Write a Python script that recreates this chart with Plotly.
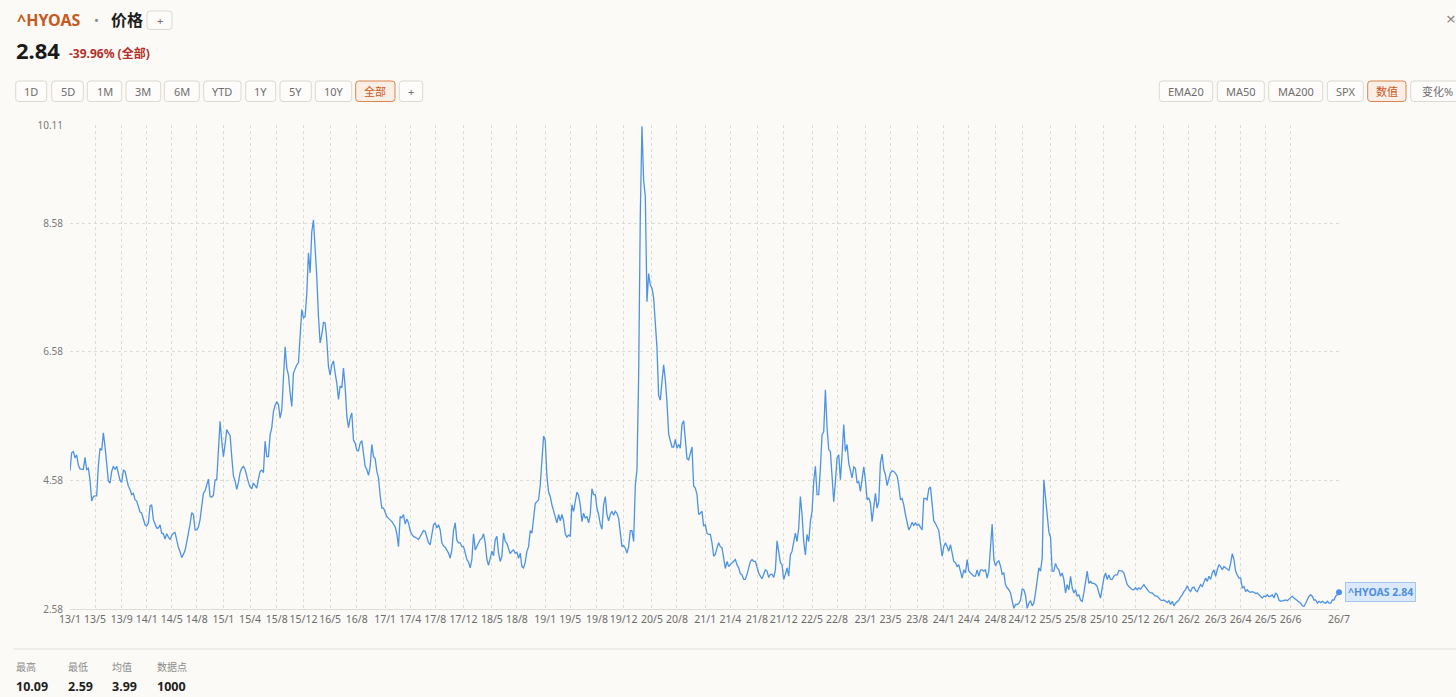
import plotly.graph_objects as go

# ^HYOAS values, evenly spaced along the axis
hyoas_2013_2016 = [
    4.73, 5.01, 5.03, 4.93, 4.98, 4.82, 4.76, 4.76, 4.75, 4.94,
    4.75, 4.77, 4.59, 4.26, 4.33, 4.34, 4.34, 4.80, 5.08, 5.05,
    5.32, 5.11, 4.80, 4.57, 4.54, 4.72, 4.80, 4.75, 4.80, 4.69,
    4.58, 4.55, 4.74, 4.72, 4.62, 4.49, 4.44, 4.36, 4.38, 4.28,
    4.26, 4.15, 4.09, 4.07, 3.97, 3.89, 3.87, 3.92, 4.18, 4.20,
    3.97, 3.89, 3.84, 3.84, 3.89, 3.76, 3.75, 3.67, 3.75, 3.70,
    3.66, 3.72, 3.76, 3.77, 3.65, 3.54, 3.47, 3.38, 3.43, 3.49,
    3.62, 3.74, 3.90, 4.08, 4.05, 3.81, 3.81, 3.85, 3.97, 4.18,
    4.38, 4.42, 4.50, 4.60, 4.33, 4.32, 4.35, 4.59, 4.59, 5.01,
    5.50, 5.20, 4.95, 5.14, 5.37, 5.32, 5.28, 4.95, 4.65, 4.57,
    4.44, 4.55, 4.70, 4.77, 4.80, 4.75, 4.64, 4.55, 4.48, 4.45,
    4.54, 4.50, 4.46, 4.60, 4.72, 4.74, 4.70, 5.19, 4.95, 4.95,
    5.29, 5.40, 5.65, 5.75, 5.80, 5.76, 5.55, 5.68, 6.20, 6.66,
    6.33, 6.22, 5.94, 5.73, 6.25, 6.33, 6.38, 6.41, 6.77, 7.24,
    7.11, 7.13, 7.49, 8.12, 7.81, 8.45, 8.63, 8.22, 7.75, 7.13,
]
hyoas_2016_2019 = [
    6.72, 6.85, 7.04, 7.03, 6.77, 6.35, 6.22, 6.38, 6.44, 6.25,
    6.09, 5.84, 6.05, 6.02, 6.33, 6.04, 5.58, 5.40, 5.55, 5.63,
    5.21, 5.16, 5.05, 5.04, 5.16, 5.20, 4.98, 4.80, 4.75, 4.66,
    4.80, 5.14, 4.95, 4.92, 4.72, 4.62, 4.35, 4.15, 4.15, 4.09,
    4.02, 3.99, 3.97, 3.94, 3.90, 3.86, 3.75, 3.55, 4.02, 4.00,
    4.05, 3.90, 3.98, 3.92, 3.80, 3.74, 3.71, 3.70, 3.68, 3.66,
    3.71, 3.76, 3.80, 3.79, 3.70, 3.61, 3.58, 3.76, 3.89, 3.92,
    3.84, 3.89, 3.81, 3.61, 3.56, 3.54, 3.50, 3.45, 3.37, 3.50,
    3.80, 3.92, 3.65, 3.61, 3.61, 3.55, 3.55, 3.45, 3.35, 3.31,
    3.22, 3.35, 3.75, 3.50, 3.55, 3.61, 3.66, 3.68, 3.75, 3.61,
    3.35, 3.26, 3.40, 3.48, 3.41, 3.66, 3.71, 3.45, 3.32, 3.40,
    3.76, 3.63, 3.60, 3.50, 3.44, 3.48, 3.50, 3.45, 3.46, 3.37,
    3.45, 3.24, 3.22, 3.31, 3.48, 3.55, 3.80, 3.76, 4.05, 4.22,
    4.25, 4.28, 4.51, 4.90, 5.27, 5.20, 4.65, 4.40, 4.33, 4.20,
    4.10, 4.02, 3.92, 4.05, 3.95, 4.05, 3.95, 3.75, 3.70, 3.73,
    3.71, 4.20, 4.10, 4.25, 4.40, 4.35,
]
hyoas_2019_2022 = [
    4.20, 3.94, 4.07, 3.99, 4.02, 3.92, 4.05, 4.45, 4.36, 4.36,
    4.15, 4.05, 3.90, 3.82, 4.20, 4.33, 4.05, 3.95, 4.05, 4.10,
    4.04, 4.10, 4.07, 3.99, 3.74, 3.55, 3.57, 3.53, 3.45, 3.55,
    3.80, 3.80, 3.63, 4.50, 4.75, 6.20, 8.71, 10.09, 9.25, 9.00,
    7.36, 7.80, 7.62, 7.57, 7.42, 6.95, 6.64, 5.90, 5.83, 6.12,
    6.38, 6.14, 5.80, 5.30, 5.18, 5.10, 5.10, 5.22, 5.08, 5.14,
    5.08, 5.45, 5.51, 5.25, 4.92, 4.90, 5.00, 5.10, 4.49, 4.46,
    4.36, 4.05, 4.07, 4.10, 3.87, 3.89, 3.76, 3.74, 3.74, 3.61,
    3.40, 3.43, 3.53, 3.61, 3.55, 3.53, 3.37, 3.21, 3.32, 3.24,
    3.27, 3.30, 3.33, 3.35, 3.27, 3.22, 3.13, 3.11, 3.04, 3.04,
    3.12, 3.22, 3.32, 3.35, 3.32, 3.32, 3.22, 3.14, 3.09, 3.05,
    3.12, 3.19, 3.17, 3.07, 3.12, 3.12, 3.07, 3.19, 3.64, 3.42,
    3.30, 3.27, 3.04, 3.12, 3.22, 3.09, 3.42, 3.48, 3.61, 3.76,
    3.63, 3.84, 4.33, 4.05, 3.63, 3.42, 3.74, 3.63, 3.94, 4.10,
    4.56, 4.80, 4.36, 4.36, 4.77, 5.29, 5.34, 5.99, 5.40, 5.06,
    5.03, 4.56, 4.25, 4.56, 4.93, 4.98,
]
hyoas_2022_2025 = [
    4.59, 4.98, 5.45, 5.03, 5.14, 4.85, 4.75, 4.62, 4.79, 4.77,
    4.54, 4.56, 4.41, 4.64, 4.79, 4.59, 4.28, 4.31, 4.23, 3.94,
    4.12, 4.38, 4.15, 4.25, 4.85, 4.99, 4.75, 4.67, 4.50, 4.60,
    4.70, 4.73, 4.72, 4.69, 4.65, 4.50, 4.28, 4.30, 4.20, 4.05,
    3.90, 3.81, 3.86, 3.93, 3.88, 3.92, 3.88, 3.90, 3.85, 3.81,
    4.30, 4.30, 4.28, 4.45, 4.48, 4.20, 3.95, 3.91, 3.86, 3.80,
    3.60, 3.40, 3.55, 3.61, 3.55, 3.48, 3.58, 3.45, 3.32, 3.30,
    3.24, 3.27, 3.17, 3.06, 3.19, 3.14, 3.35, 3.17, 3.14, 3.11,
    3.09, 3.09, 3.19, 3.09, 3.19, 3.19, 3.17, 3.19, 3.06, 3.17,
    3.58, 3.90, 3.35, 3.25, 3.31, 3.33, 3.25, 3.12, 3.14, 2.96,
    2.91, 2.88, 2.83, 2.70, 2.59, 2.65, 2.65, 2.67, 2.72, 2.89,
    2.88, 2.79, 2.59, 2.67, 2.71, 2.63, 2.67, 2.83, 3.04, 3.22,
    3.17, 3.37, 4.59, 4.28, 4.02, 3.78, 3.70, 3.17, 3.17, 3.29,
    3.22, 3.19, 3.09, 3.14, 3.04, 2.83, 2.96, 2.88, 3.09, 2.91,
    2.83, 2.88, 2.78, 2.80, 2.72, 2.70, 2.83, 3.04, 3.17, 2.98,
    3.01, 2.98, 2.98, 2.96, 2.93, 2.83,
]
hyoas_2025_2026 = [
    2.75, 2.91, 3.06, 3.14, 3.04, 3.11, 3.04, 3.04, 3.09, 3.11,
    3.11, 3.18, 3.17, 3.17, 3.14, 3.06, 2.96, 2.93, 2.91, 2.88,
    2.88, 2.91, 2.88, 2.91, 2.89, 2.92, 2.96, 2.92, 2.88, 2.85,
    2.83, 2.83, 2.80, 2.78, 2.78, 2.75, 2.72, 2.71, 2.72, 2.70,
    2.68, 2.71, 2.65, 2.70, 2.63, 2.67, 2.70, 2.72, 2.77, 2.80,
    2.85, 2.88, 2.94, 2.88, 2.85, 2.91, 2.92, 2.87, 2.85, 2.92,
    2.96, 2.93, 3.01, 3.06, 3.01, 3.09, 3.04, 3.14, 3.19, 3.09,
    3.19, 3.27, 3.24, 3.19, 3.24, 3.22, 3.19, 3.18, 3.29, 3.44,
    3.35, 3.17, 3.11, 3.06, 3.06, 2.91, 2.93, 2.85, 2.88, 2.85,
    2.84, 2.85, 2.84, 2.82, 2.83, 2.80, 2.78, 2.75, 2.78, 2.77,
    2.80, 2.77, 2.78, 2.80, 2.75, 2.83, 2.80, 2.72, 2.70, 2.71,
    2.71, 2.72, 2.71, 2.73, 2.75, 2.78, 2.75, 2.73, 2.72, 2.70,
    2.67, 2.63, 2.62, 2.67, 2.72, 2.78, 2.80, 2.78, 2.72, 2.72,
    2.67, 2.70, 2.68, 2.70, 2.68, 2.67, 2.70, 2.67, 2.67, 2.72,
    2.72, 2.78, 2.80, 2.84,
]
hyoas = hyoas_2013_2016 + hyoas_2016_2019 + hyoas_2019_2022 + hyoas_2022_2025 + hyoas_2025_2026
obs = list(range(len(hyoas)))

# observation number where each month label sits
tick_obs = [0, 15, 31, 46, 61, 76, 92, 108, 124, 140, 156, 172, 189, 204, 219, 236,
            253, 268, 285, 300, 316, 332, 349, 364, 381, 396, 412, 428, 445, 460,
            477, 492, 508, 524, 539, 555, 571, 588, 603, 620, 639, 656, 671, 687,
            702, 717, 732, 761]
tick_labels = ["13/1", "13/5", "13/9", "14/1", "14/5", "14/8", "15/1", "15/4", "15/8",
               "15/12", "16/5", "16/8", "17/1", "17/4", "17/8", "17/12", "18/5", "18/8",
               "19/1", "19/5", "19/8", "19/12", "20/5", "20/8", "21/1", "21/4", "21/8",
               "21/12", "22/5", "22/8", "23/1", "23/5", "23/8", "24/1", "24/4", "24/8",
               "24/12", "25/5", "25/8", "25/10", "25/12", "26/1", "26/2", "26/3", "26/4",
               "26/5", "26/6", "26/7"]
y_ticks = [2.58, 4.58, 6.58, 8.58, 10.11]

stat_names = ["最高", "最低", "均值", "数据点"]
stat_values = ["10.09", "2.59", "3.99", "1000"]

range_buttons = ["1D", "5D", "1M", "3M", "6M", "YTD", "1Y", "5Y", "10Y", "全部", "+"]
overlay_buttons = ["EMA20", "MA50", "MA200", "SPX", "数值", "变化%"]

W, H = 1456, 697
L, R, T, B = 70, 117, 125, 88
PW, PH = W - L - R, H - T - B
BG = "#fbfaf6"
BLUE = "#4d93e4"
ORANGE = "#c8581c"


def fx(p):
    return (p - L) / PW


def fy(p):
    return (H - B - p) / PH


annotations = []
shapes = []


def text(x, y, s, size, color, anchor="left"):
    annotations.append(dict(xref="paper", yref="paper", x=fx(x), y=fy(y), text=s,
                            showarrow=False, xanchor=anchor, yanchor="middle",
                            font=dict(size=size, color=color)))


def rounded(x0, y0, x1, y1, r=3):
    a, b = fx(x0), fx(x1)
    top, bot = fy(y0), fy(y1)
    rx, ry = r / PW, r / PH
    return (f"M{a+rx},{top} L{b-rx},{top} Q{b},{top} {b},{top-ry} "
            f"L{b},{bot+ry} Q{b},{bot} {b-rx},{bot} L{a+rx},{bot} "
            f"Q{a},{bot} {a},{bot+ry} L{a},{top-ry} Q{a},{top} {a+rx},{top} Z")


def button(x0, x1, y0, y1, label, active=False):
    shapes.append(dict(type="path", xref="paper", yref="paper", path=rounded(x0, y0, x1, y1),
                       fillcolor="#fbeee5" if active else "#fdfcfa",
                       line=dict(color="#d9834d" if active else "#dcd9d2", width=1)))
    text((x0 + x1) / 2, (y0 + y1) / 2, label, 11, ORANGE if active else "#6e6e6e", "center")


# header
first, last = hyoas[0], hyoas[-1]
change = (last / first - 1) * 100
text(15, 20, "<b>^HYOAS</b>", 16, ORANGE)
text(96, 20, "•", 13, "#8a8a8a", "center")
text(109, 20, "<b>价格</b>", 16, "#1e1e1e")
button(147, 172, 11, 29.5, "+")
text(14, 50, f"<b>{last:.2f}</b>", 22, "#1a1a1a")
text(67, 53, f"<b>{change:.2f}% (全部)</b>", 12, "#b3302a")
text(1451, 18, "×", 17, "#8a8a8a", "center")

range_x = [(15.7, 46.7), (51.7, 83.3), (87.3, 121.7), (126, 160.7), (164.3, 199.3),
           (203.7, 241), (245.7, 275.7), (280, 311.3), (315.3, 351.7), (355.7, 395),
           (399.3, 422.7)]
for lab, (x0, x1) in zip(range_buttons, range_x):
    button(x0, x1, 81, 101.5, lab, lab == "全部")

overlay_x = [(1159.3, 1212.7), (1217.3, 1264.3), (1268.7, 1322.7), (1327.3, 1363.3),
             (1367.7, 1406), (1410.7, 1464)]
for lab, (x0, x1) in zip(overlay_buttons, overlay_x):
    button(x0, x1, 81, 101.5, lab, lab == "数值")

# footer
shapes.append(dict(type="line", xref="paper", yref="paper", x0=fx(14), x1=fx(W + 5),
                   y0=fy(649), y1=fy(649), line=dict(color="#e3dfd8", width=1)))
for name, val, x in zip(stat_names, stat_values, [15, 66.7, 111, 155.7]):
    text(x - 1, 667, name, 10, "#8c8c8c")
    text(x - 1, 686, f"<b>{val}</b>", 12.5, "#1e1e1e")

# end label
annotations.append(dict(x=obs[-1], y=last, xref="x", yref="y", text=f"<b>^HYOAS {last:.2f}</b>",
                        showarrow=False, xanchor="left", yanchor="middle", xshift=6,
                        font=dict(size=10.5, color="#4d8fe0"), bgcolor="#dce9fa",
                        bordercolor="#a3c5f0", borderwidth=1, borderpad=2))

fig = go.Figure()
fig.add_trace(go.Scatter(x=obs, y=hyoas, mode="lines", line=dict(color=BLUE, width=1.3),
                         hoverinfo="skip", showlegend=False))
fig.add_trace(go.Scatter(x=[obs[-1]], y=[last], mode="markers", marker=dict(color=BLUE, size=6),
                         cliponaxis=False, hoverinfo="skip", showlegend=False))

grid = dict(showgrid=True, gridcolor="#dedbd3", griddash="3px,3px", gridwidth=1,
            zeroline=False, ticks="", fixedrange=True)
fig.update_layout(
    width=W, height=H,
    margin=dict(l=L, r=R, t=T, b=B),
    paper_bgcolor=BG, plot_bgcolor=BG,
    font=dict(family="Noto Sans, Noto Sans CJK SC, sans-serif", color="#333"),
    xaxis=dict(range=[0, obs[-1]], tickmode="array", tickvals=tick_obs, ticktext=tick_labels,
               tickangle=0, tickfont=dict(size=10.5, color="#6b6b6b"), showline=True,
               linecolor="#e0ddd6", **grid),
    yaxis=dict(range=[y_ticks[0], y_ticks[-1]], tickmode="array", tickvals=y_ticks,
               ticktext=[f"{v:.2f}" for v in y_ticks], tickfont=dict(size=10, color="#7a7a7a"),
               ticklabelstandoff=6, **grid),
    annotations=annotations,
    shapes=shapes,
)

fig.write_html("out.html", config={"displayModeBar": False},
               post_script="document.body.style.margin='0';document.body.style.overflow='hidden';")
